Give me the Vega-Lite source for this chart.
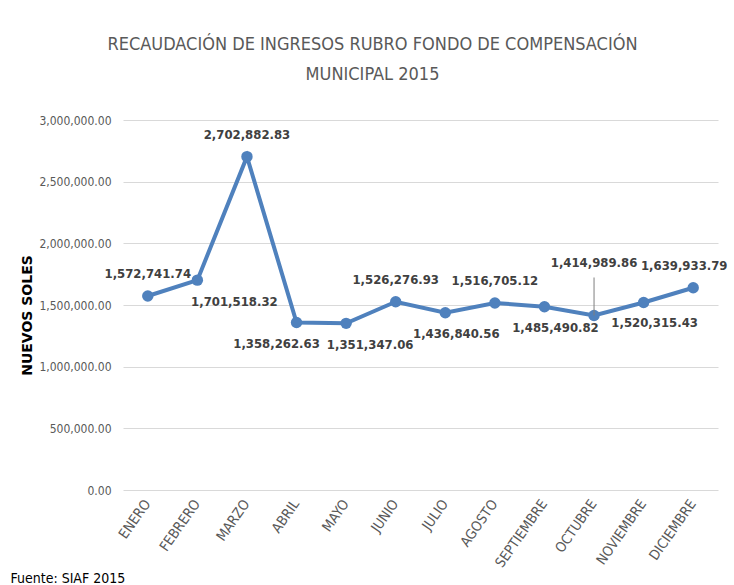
{
  "$schema": "https://vega.github.io/schema/vega-lite/v6.json",
  "width": 595,
  "height": 370,
  "autosize": {"type": "none"},
  "padding": {"left": 123, "top": 120, "right": 16, "bottom": 95},
  "background": "white",
  "config": {
    "view": {"stroke": null},
    "font": "DejaVu Sans Condensed, sans-serif"
  },
  "title": {
    "text": ["RECAUDACIÓN DE INGRESOS RUBRO FONDO DE COMPENSACIÓN", "MUNICIPAL 2015"],
    "anchor": "middle",
    "dx": -48,
    "offset": 30,
    "fontSize": 18,
    "fontWeight": "normal",
    "color": "#595959",
    "lineHeight": 30,
    "font": "DejaVu Sans Condensed, sans-serif"
  },
  "data": {
    "values": [
      {"mes": "ENERO", "valor": 1572741.74},
      {"mes": "FEBRERO", "valor": 1701518.32},
      {"mes": "MARZO", "valor": 2702882.83},
      {"mes": "ABRIL", "valor": 1358262.63},
      {"mes": "MAYO", "valor": 1351347.06},
      {"mes": "JUNIO", "valor": 1526276.93},
      {"mes": "JULIO", "valor": 1436840.56},
      {"mes": "AGOSTO", "valor": 1516705.12},
      {"mes": "SEPTIEMBRE", "valor": 1485490.82},
      {"mes": "OCTUBRE", "valor": 1414989.86},
      {"mes": "NOVIEMBRE", "valor": 1520315.43},
      {"mes": "DICIEMBRE", "valor": 1639933.79}
    ]
  },
  "encoding": {
    "x": {
      "field": "mes",
      "type": "nominal",
      "sort": null,
      "scale": {"paddingInner": 0, "paddingOuter": 0},
      "axis": {
        "title": "Fuente: SIAF 2015",
        "titleX": -113,
        "titleY": 92,
        "titleAlign": "left",
        "titleAnchor": "start",
        "titleBaseline": "alphabetic",
        "titleFontSize": 14,
        "titleFontWeight": "normal",
        "titleColor": "#000000",
        "labelAngle": -55,
        "labelFontSize": 14,
        "labelColor": "#595959",
        "labelPadding": 11,
        "ticks": false,
        "domain": false,
        "grid": false
      }
    },
    "y": {
      "field": "valor",
      "type": "quantitative",
      "scale": {"domain": [0, 3000000], "nice": false},
      "axis": {
        "values": [0, 500000, 1000000, 1500000, 2000000, 2500000, 3000000],
        "format": ",.2f",
        "title": "NUEVOS SOLES",
        "titleX": -96,
        "titleY": 195,
        "titleAngle": -90,
        "titleAlign": "center",
        "titleBaseline": "middle",
        "titleFontSize": 14,
        "titleFontWeight": "bold",
        "titleColor": "#000000",
        "titleFont": "DejaVu Sans, sans-serif",
        "labelFontSize": 12,
        "labelColor": "#595959",
        "labelPadding": 12,
        "ticks": false,
        "domain": false,
        "gridColor": "#D9D9D9",
        "gridWidth": 1
      }
    }
  },
  "layer": [
    {
      "mark": {"type": "line", "color": "#4F81BD", "strokeWidth": 4}
    },
    {
      "mark": {"type": "circle", "color": "#4F81BD", "opacity": 1, "size": 130}
    },
    {
      "transform": [{"filter": "datum.mes == 'OCTUBRE'"}],
      "mark": {"type": "rule", "color": "#7F7F7F", "strokeWidth": 1, "y2Offset": -38},
      "encoding": {"y2": {"field": "valor"}}
    },
    {
      "transform": [{"filter": {"field": "mes", "oneOf": ["ENERO", "MARZO", "JUNIO", "AGOSTO"]}}],
      "mark": {"type": "text", "dy": -22, "fontSize": 13, "fontWeight": "bold", "color": "#404040"},
      "encoding": {"text": {"field": "valor", "type": "quantitative", "format": ",.2f"}}
    },
    {
      "transform": [{"filter": "datum.mes == 'DICIEMBRE'"}],
      "mark": {"type": "text", "dy": -22, "dx": -9, "fontSize": 13, "fontWeight": "bold", "color": "#404040"},
      "encoding": {"text": {"field": "valor", "type": "quantitative", "format": ",.2f"}}
    },
    {
      "transform": [{"filter": "datum.mes == 'OCTUBRE'"}],
      "mark": {"type": "text", "dy": -52, "fontSize": 13, "fontWeight": "bold", "color": "#404040"},
      "encoding": {"text": {"field": "valor", "type": "quantitative", "format": ",.2f"}}
    },
    {
      "transform": [{"filter": "datum.mes == 'FEBRERO'"}],
      "mark": {"type": "text", "dy": 22, "dx": 37, "fontSize": 13, "fontWeight": "bold", "color": "#404040"},
      "encoding": {"text": {"field": "valor", "type": "quantitative", "format": ",.2f"}}
    },
    {
      "transform": [{"filter": "datum.mes == 'ABRIL'"}],
      "mark": {"type": "text", "dy": 22, "dx": -20, "fontSize": 13, "fontWeight": "bold", "color": "#404040"},
      "encoding": {"text": {"field": "valor", "type": "quantitative", "format": ",.2f"}}
    },
    {
      "transform": [{"filter": "datum.mes == 'MAYO'"}],
      "mark": {"type": "text", "dy": 22, "dx": 24, "fontSize": 13, "fontWeight": "bold", "color": "#404040"},
      "encoding": {"text": {"field": "valor", "type": "quantitative", "format": ",.2f"}}
    },
    {
      "transform": [{"filter": {"field": "mes", "oneOf": ["JULIO", "SEPTIEMBRE", "NOVIEMBRE"]}}],
      "mark": {"type": "text", "dy": 21, "dx": 11, "fontSize": 13, "fontWeight": "bold", "color": "#404040"},
      "encoding": {"text": {"field": "valor", "type": "quantitative", "format": ",.2f"}}
    }
  ]
}
